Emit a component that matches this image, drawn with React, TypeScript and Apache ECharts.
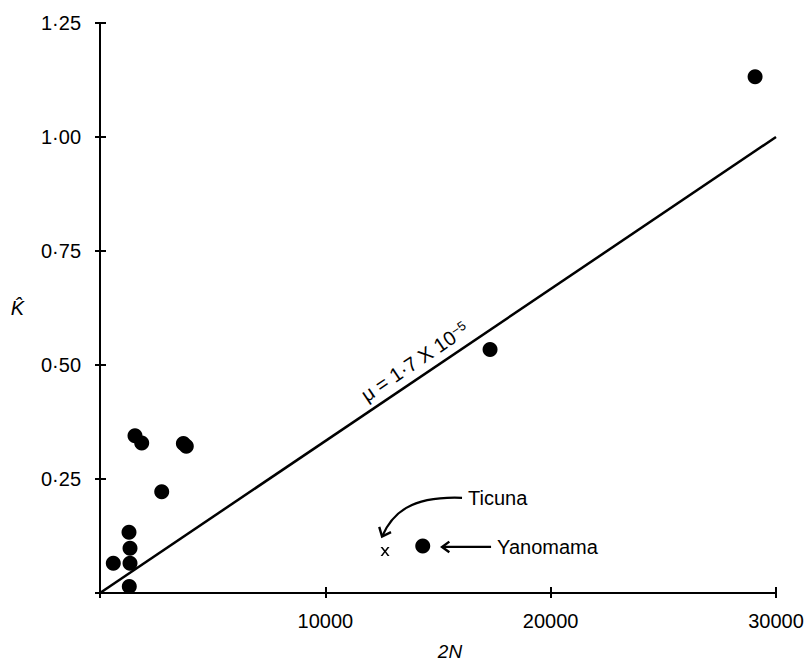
import React, { useEffect, useRef } from "react";
import * as echarts from "echarts";

// ---- axes ----
const X_MIN = 0;
const X_MAX = 30000;
const X_INTERVAL = 10000;
const Y_MIN = 0;
const Y_MAX = 1.25;
const Y_INTERVAL = 0.25;

// ---- data (2N, K-hat) ----
const populations: [number, number][] = [
  [1553, 0.345],
  [1851, 0.329],
  [3700, 0.328],
  [3830, 0.322],
  [2739, 0.222],
  [1287, 0.133],
  [1332, 0.098],
  [590, 0.065],
  [1332, 0.065],
  [1300, 0.014],
  [17310, 0.534],
  [29072, 1.132],
];
const yanomama: [number, number][] = [[14323, 0.103]];
const ticuna: [number, number][] = [[12650, 0.091]];

// regression line mu = 1.7 x 10^-5
const fitLine: [number, number][] = [
  [0, 0],
  [30000, 1.0],
];

// ---- annotation anchors (data coordinates) ----
const fitLabelAt: [number, number] = [13964, 0.507];
const yanomamaArrow: [number, number][] = [
  [17355, 0.101],
  [15180, 0.101],
];
const yanomamaLabelAt: [number, number] = [17621, 0.101];
const ticunaCurve: [number, number][] = [
  [16067, 0.2087],
  [13760, 0.213],
  [12960, 0.1739],
  [12517, 0.1239],
];
const ticunaLabelAt: [number, number] = [16334, 0.2087];

const FONT = "'Liberation Sans', Arial, Helvetica, sans-serif";
const INK = "#000000";

function arrowHead(tip: number[], from: number[], len = 10, spread = Math.PI / 5) {
  const dx = from[0] - tip[0];
  const dy = from[1] - tip[1];
  const base = Math.atan2(dy, dx);
  const a1 = base + spread;
  const a2 = base - spread;
  return [
    [tip[0] + len * Math.cos(a1), tip[1] + len * Math.sin(a1)],
    [tip[0], tip[1]],
    [tip[0] + len * Math.cos(a2), tip[1] + len * Math.sin(a2)],
  ];
}

export default function App() {
  const ref = useRef<HTMLDivElement>(null);

  useEffect(() => {
    if (!ref.current) return;
    const chart = echarts.init(ref.current, null, { renderer: "svg" });

    const axisCommon = {
      type: "value" as const,
      splitLine: { show: false },
    };

    const option: any = {
      animation: false,
      backgroundColor: "#ffffff",
      grid: { left: 100, right: 34, top: 23, bottom: 68, containLabel: false },
      xAxis: [
        {
          ...axisCommon,
          min: X_MIN,
          max: X_MAX,
          interval: X_INTERVAL,
          position: "bottom",
          name: "2N",
          nameLocation: "middle",
          nameGap: 49,
          nameTextStyle: {
            fontFamily: FONT,
            fontStyle: "italic",
            fontSize: 19,
            color: INK,
            padding: [0, 0, 0, 24],
          },
          axisLine: { show: true, lineStyle: { color: INK, width: 2 } },
          axisTick: { show: true, inside: false, length: 5, lineStyle: { color: INK, width: 2 } },
          axisLabel: {
            fontFamily: FONT,
            fontSize: 20,
            color: INK,
            margin: 18,
            formatter: (v: number) => (v === 0 ? "" : String(v)),
          },
        },
        {
          ...axisCommon,
          min: X_MIN,
          max: X_MAX,
          interval: X_INTERVAL,
          position: "bottom",
          axisLine: { show: false },
          axisTick: { show: true, inside: true, length: 6, lineStyle: { color: INK, width: 2 } },
          axisLabel: { show: false },
        },
      ],
      yAxis: [
        {
          ...axisCommon,
          min: Y_MIN,
          max: Y_MAX,
          interval: Y_INTERVAL,
          position: "left",
          name: "K\u0302",
          nameLocation: "middle",
          nameRotate: 0,
          nameGap: 76,
          nameTextStyle: {
            fontFamily: FONT,
            fontStyle: "italic",
            fontSize: 20,
            color: INK,
            padding: [0, 0, 34, 0],
          },
          axisLine: { show: true, lineStyle: { color: INK, width: 2 } },
          axisTick: { show: true, inside: false, length: 5, lineStyle: { color: INK, width: 2 } },
          axisLabel: {
            fontFamily: FONT,
            fontSize: 20,
            color: INK,
            margin: 19,
            formatter: (v: number) => (v === 0 ? "" : v.toFixed(2).replace(".", "\u00b7")),
          },
        },
        {
          ...axisCommon,
          min: Y_MIN,
          max: Y_MAX,
          interval: Y_INTERVAL,
          position: "left",
          axisLine: { show: false },
          axisTick: { show: true, inside: true, length: 6, lineStyle: { color: INK, width: 2 } },
          axisLabel: { show: false },
        },
      ],
      series: [
        {
          name: "fit",
          type: "line",
          data: fitLine,
          symbol: "none",
          lineStyle: { color: INK, width: 2.5 },
          z: 2,
        },
        {
          name: "populations",
          type: "scatter",
          data: populations,
          symbol: "circle",
          symbolSize: 15,
          itemStyle: { color: INK, opacity: 1 },
          z: 3,
        },
        {
          name: "Yanomama",
          type: "scatter",
          data: yanomama,
          symbol: "circle",
          symbolSize: 15,
          itemStyle: { color: INK, opacity: 1 },
          z: 3,
        },
        {
          name: "Ticuna",
          type: "scatter",
          data: ticuna,
          symbol:
            "path://M0,0 L2.2,0 L5,3.6 L7.8,0 L10,0 L6.1,4.9 L10,10 L7.8,10 L5,6.2 L2.2,10 L0,10 L3.9,4.9 Z",
          symbolSize: [9, 9],
          itemStyle: { color: INK, opacity: 1 },
          z: 3,
        },
        {
          name: "annotations",
          type: "custom",
          coordinateSystem: "cartesian2d",
          data: [[0, 0]],
          clip: false,
          z: 4,
          renderItem: (_params: any, api: any) => {
            const c = (p: number[]) => api.coord(p);
            const a = c(fitLine[0]);
            const b = c(fitLine[1]);
            const ang = Math.atan2(a[1] - b[1], b[0] - a[0]);
            const fl = c(fitLabelAt);

            const ys = c(yanomamaArrow[0]);
            const yt = c(yanomamaArrow[1]);
            const yl = c(yanomamaLabelAt);

            const t0 = c(ticunaCurve[0]);
            const t1 = c(ticunaCurve[1]);
            const t2 = c(ticunaCurve[2]);
            const t3 = c(ticunaCurve[3]);
            const tl = c(ticunaLabelAt);

            return {
              type: "group",
              children: [
                {
                  type: "text",
                  x: fl[0],
                  y: fl[1],
                  rotation: ang,
                  style: {
                    text: "\u03bc = 1\u00b77 X 10{s|\u22125}",
                    fontFamily: FONT,
                    fontSize: 20,
                    fill: INK,
                    align: "center",
                    verticalAlign: "middle",
                    rich: {
                      s: {
                        fontFamily: FONT,
                        fontSize: 13,
                        fill: INK,
                        verticalAlign: "top",
                        lineHeight: 13,
                        padding: [0, 0, 10, 0],
                      },
                    },
                  },
                },
                {
                  type: "line",
                  shape: { x1: ys[0], y1: ys[1], x2: yt[0] + 2, y2: yt[1] },
                  style: { stroke: INK, lineWidth: 2.2 },
                },
                {
                  type: "polyline",
                  shape: { points: arrowHead(yt, ys, 9, Math.PI / 5) },
                  style: { stroke: INK, lineWidth: 2.4, fill: null },
                },
                {
                  type: "text",
                  x: yl[0],
                  y: yl[1],
                  style: {
                    text: "Yanomama",
                    fontFamily: FONT,
                    fontSize: 20,
                    fill: INK,
                    align: "left",
                    verticalAlign: "middle",
                  },
                },
                {
                  type: "bezierCurve",
                  shape: {
                    x1: t0[0],
                    y1: t0[1],
                    cpx1: t1[0],
                    cpy1: t1[1],
                    cpx2: t2[0],
                    cpy2: t2[1],
                    x2: t3[0],
                    y2: t3[1],
                  },
                  style: { stroke: INK, lineWidth: 2.2, fill: null },
                },
                {
                  type: "polyline",
                  shape: { points: arrowHead(t3, t2, 10, Math.PI / 4.5) },
                  style: { stroke: INK, lineWidth: 2.4, fill: null },
                },
                {
                  type: "text",
                  x: tl[0],
                  y: tl[1],
                  style: {
                    text: "Ticuna",
                    fontFamily: FONT,
                    fontSize: 20,
                    fill: INK,
                    align: "left",
                    verticalAlign: "middle",
                  },
                },
              ],
            };
          },
        },
      ],
    };

    chart.setOption(option);
    return () => chart.dispose();
  }, []);

  return (
    <div
      ref={ref}
      style={{ position: "fixed", left: 0, top: 0, width: 810, height: 666, background: "#fff" }}
    />
  );
}
